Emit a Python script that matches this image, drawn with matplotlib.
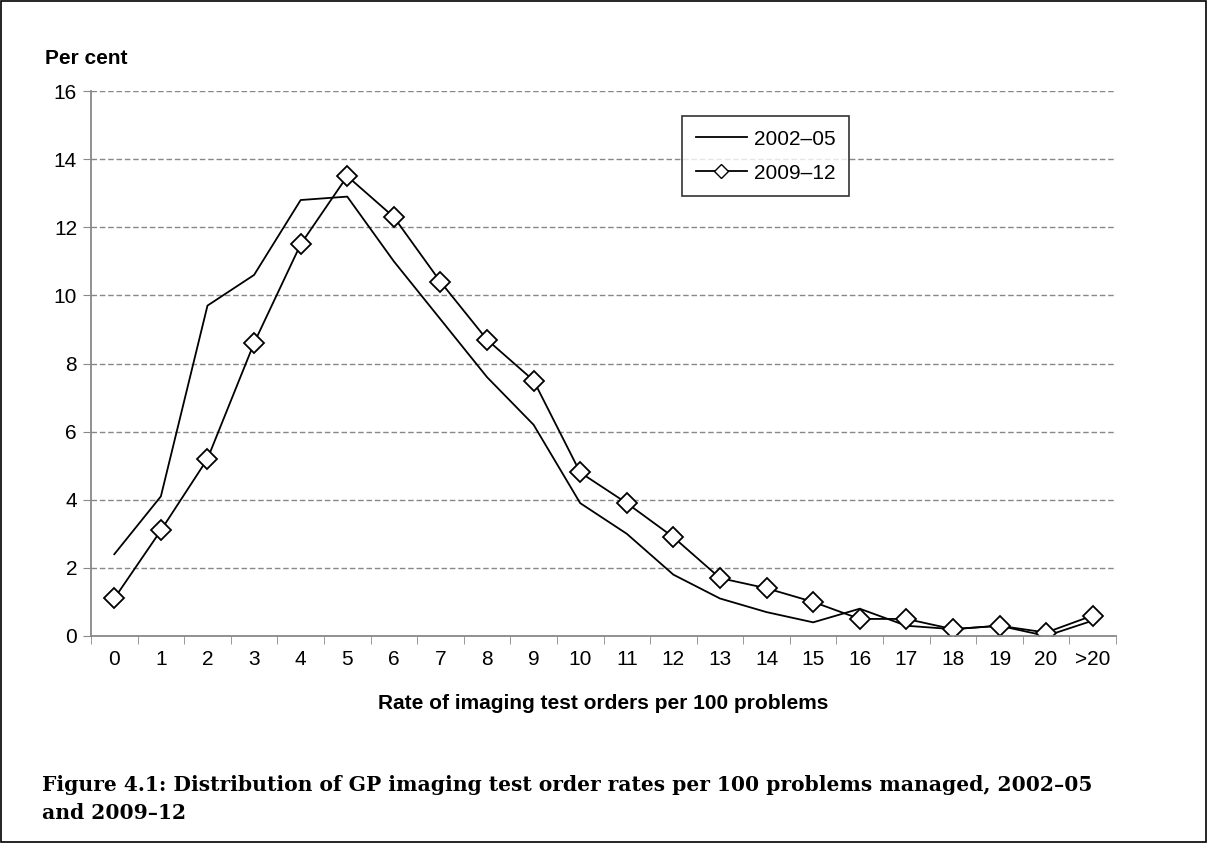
import matplotlib
matplotlib.use('Agg')
import matplotlib.pyplot as plt
import numpy as np
from matplotlib.lines import Line2D
from matplotlib.patches import Rectangle

# Categories on the x axis
categorias = ['0', '1', '2', '3', '4', '5', '6', '7', '8', '9', '10',
              '11', '12', '13', '14', '15', '16', '17', '18', '19', '20', '>20']

# Per cent of GPs in each rate band
serie_2002 = [2.4, 4.1, 9.7, 10.6, 12.8, 12.9, 11.0, 9.3, 7.6, 6.2, 3.9,
              3.0, 1.8, 1.1, 0.7, 0.4, 0.8, 0.3, 0.2, 0.3, 0.0, 0.45]
serie_2009 = [1.1, 3.1, 5.2, 8.6, 11.5, 13.5, 12.3, 10.4, 8.7, 7.5, 4.8,
              3.9, 2.9, 1.7, 1.4, 1.0, 0.5, 0.5, 0.2, 0.3, 0.1, 0.6]
y_ticks = [0, 2, 4, 6, 8, 10, 12, 14, 16]

plt.rcParams['font.family'] = ['Liberation Sans', 'DejaVu Sans']

fig = plt.figure(figsize=(12.07, 8.43), dpi=100)
ax = fig.add_axes([0.0754, 0.2456, 0.8492, 0.6464])

x = np.arange(len(categorias))
ax.plot(x, serie_2002, color='black', lw=1.3)
ax.plot(x, serie_2009, color='black', lw=1.3, marker='D', markersize=10,
        markerfacecolor='white', markeredgecolor='black', markeredgewidth=1.3)

ax.set_xlim(-0.5, len(categorias) - 0.5)
ax.set_ylim(0, 16)
ax.set_yticks(y_ticks)
ax.set_xticks(x)
ax.set_xticklabels(categorias)
ax.set_xticks(np.arange(-0.5, len(categorias)), minor=True)
ax.tick_params(axis='x', which='major', length=0, pad=10, labelsize=15)
ax.tick_params(axis='x', which='minor', length=6, color='#888888', direction='out')
ax.tick_params(axis='y', length=6, color='#888888', labelsize=15, pad=4)

ax.grid(axis='y', linestyle=(0, (4, 2)), color='#888888', lw=1)
ax.set_axisbelow(True)
for s in ['top', 'right']:
    ax.spines[s].set_visible(False)
for s in ['left', 'bottom']:
    ax.spines[s].set_color('#888888')
    ax.spines[s].set_linewidth(1.3)

ax.set_xlabel('Rate of imaging test orders per 100 problems', fontsize=15,
              fontweight='bold', labelpad=18)
fig.text(45 / 1207, 1 - 58 / 843, 'Per cent', fontsize=15, fontweight='bold',
         ha='left', va='center')

handles = [Line2D([], [], color='black', lw=1.3),
           Line2D([], [], color='black', lw=1.3, marker='D', markersize=7,
                  markerfacecolor='white', markeredgecolor='black')]
leg = ax.legend(handles, ['2002\u201305', '2009\u201312'], loc='upper left',
                bbox_to_anchor=(0.577, 0.954), borderaxespad=0, fontsize=15,
                frameon=True, fancybox=False, edgecolor='black', handlelength=2.45,
                borderpad=0.65, labelspacing=0.72, handletextpad=0.35)
leg.get_frame().set_linewidth(1.2)

fig.text(42 / 1207, 1 - 785 / 843,
         'Figure 4.1: Distribution of GP imaging test order rates per 100 problems managed, 2002\u201305',
         fontsize=14.6, fontweight='bold', family=['DejaVu Serif'],
         ha='left', va='center')
fig.text(42 / 1207, 1 - 813 / 843, 'and 2009\u201312',
         fontsize=14.6, fontweight='bold', family=['DejaVu Serif'],
         ha='left', va='center')

fig.add_artist(Rectangle((0.001, 0.001), 0.998, 0.998, transform=fig.transFigure,
                         fill=False, edgecolor='black', lw=1.2))

fig.savefig('out.png', dpi=100)
